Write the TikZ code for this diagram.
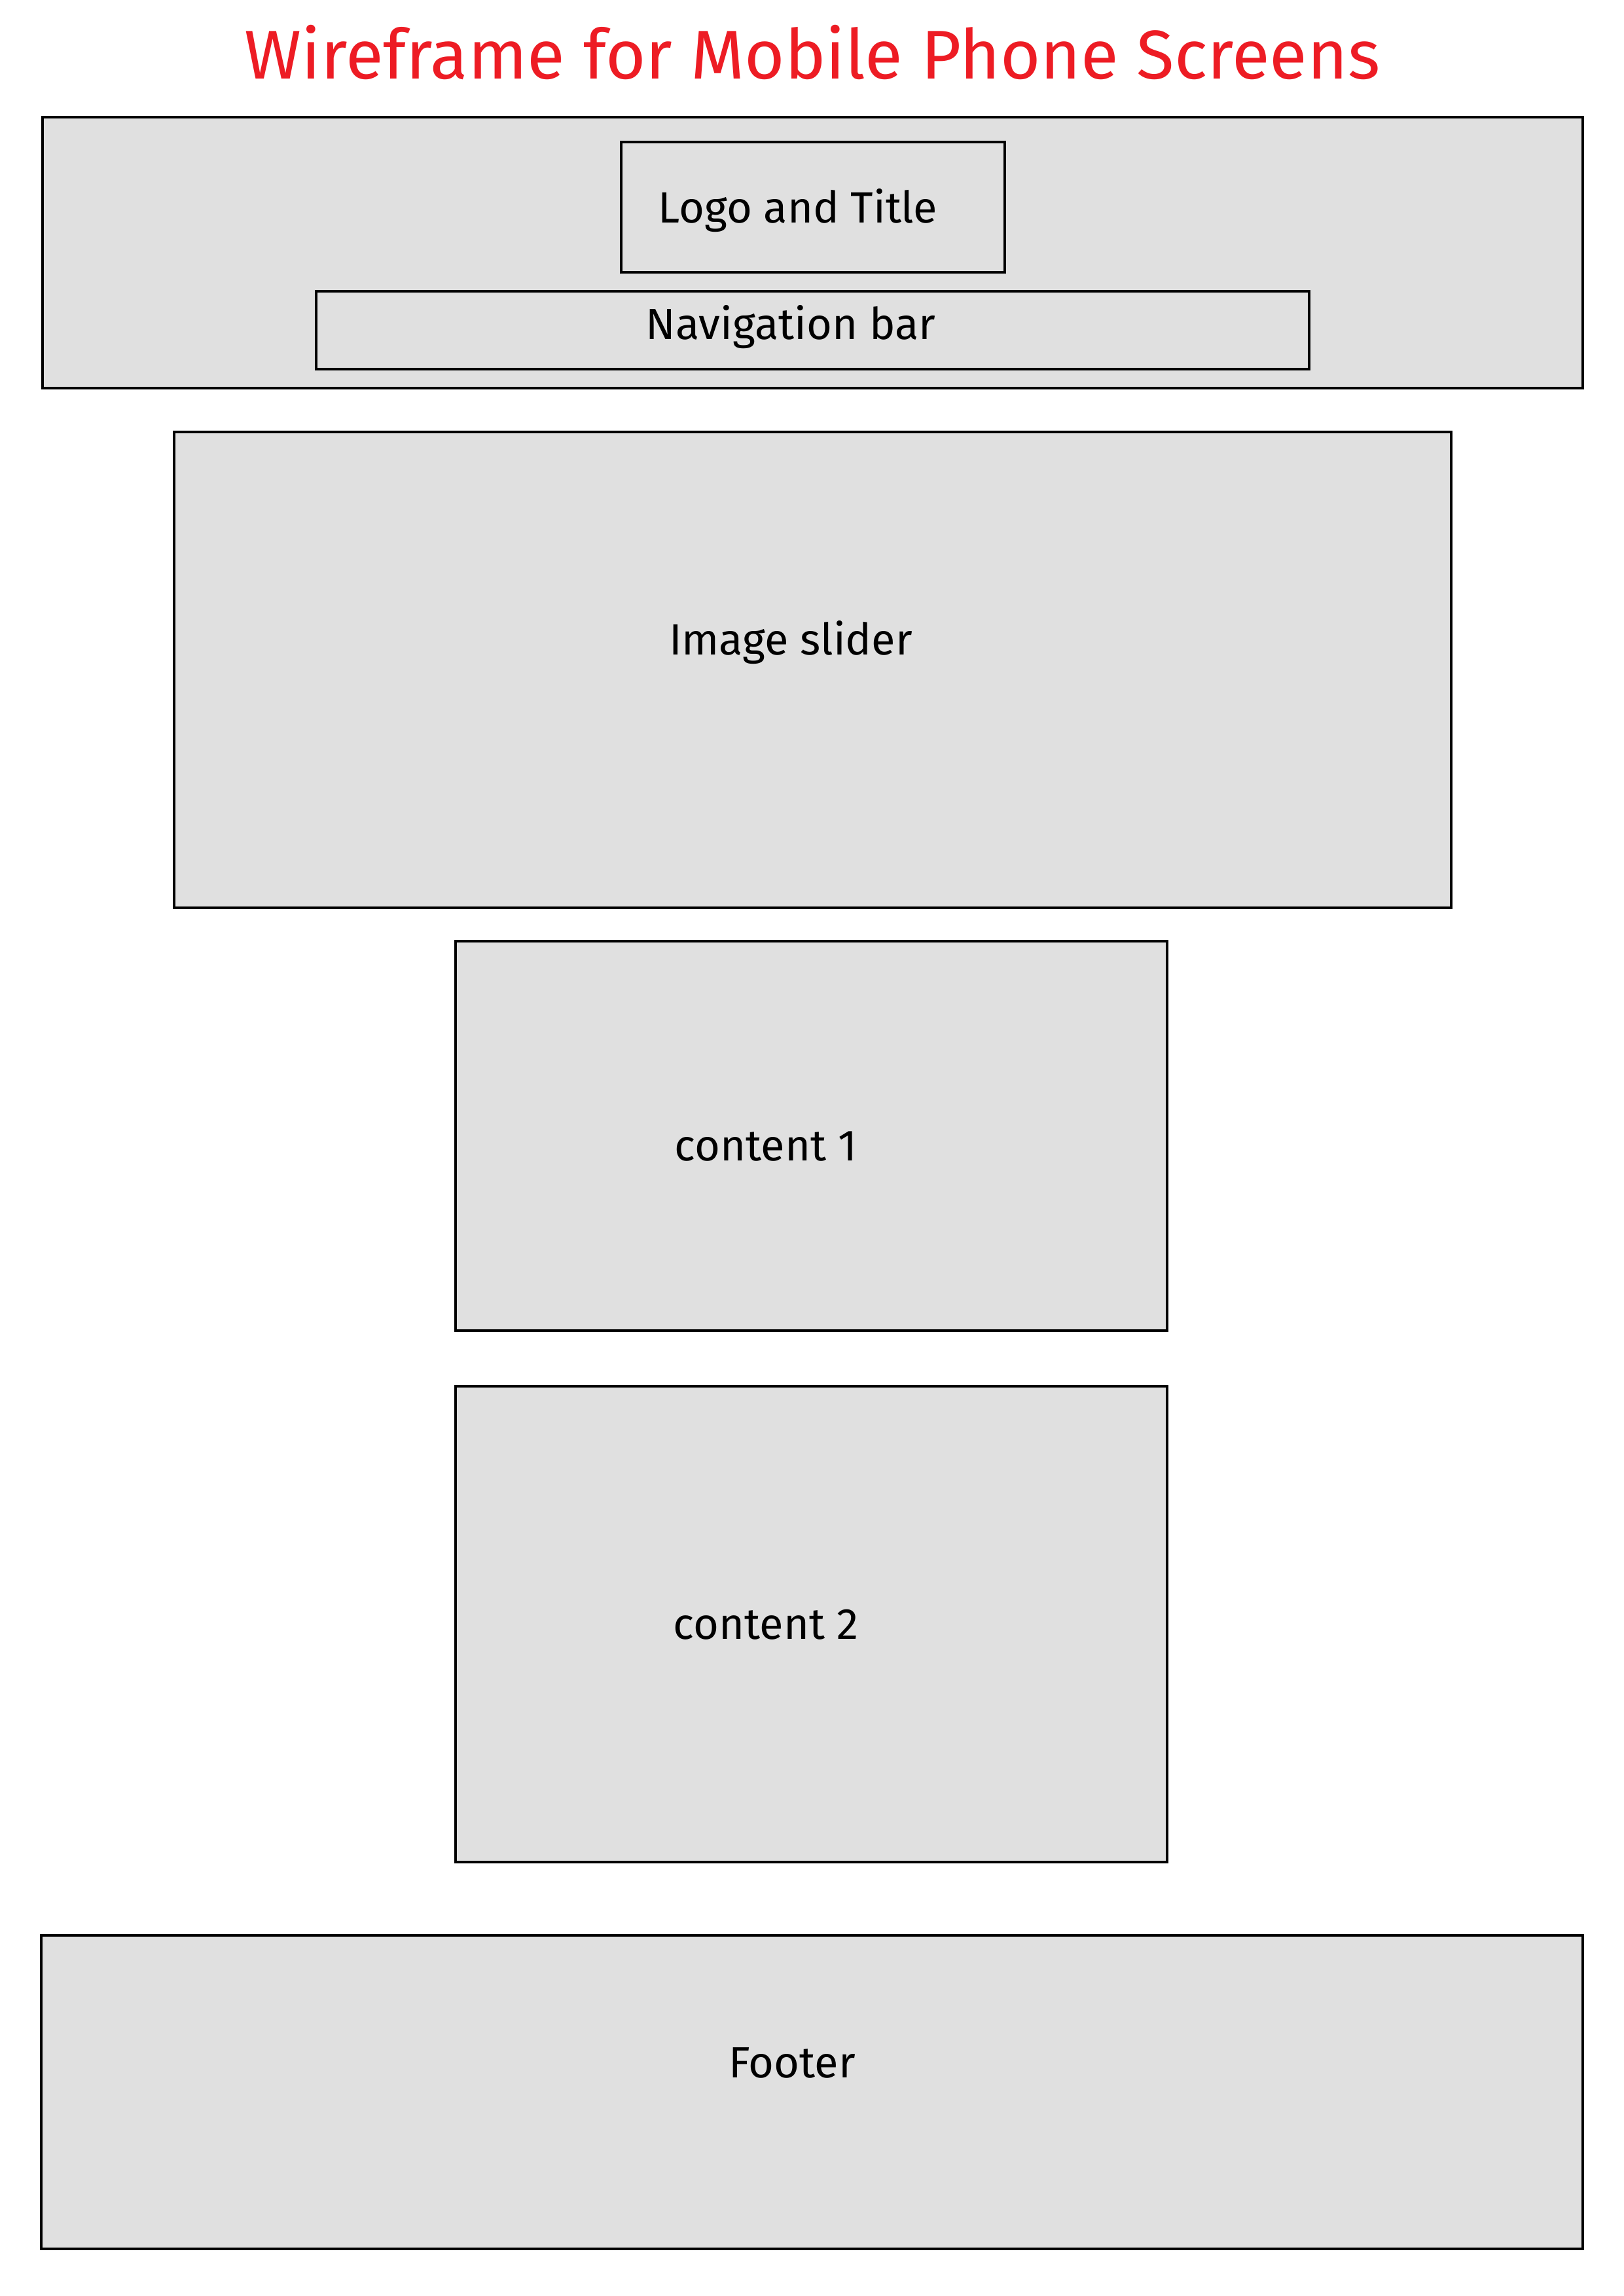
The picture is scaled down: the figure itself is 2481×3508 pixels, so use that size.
\documentclass[tikz,border=0pt]{standalone}
\usepackage{fontspec}
\setmainfont{Fira Sans}
\usepackage{tikz}

\definecolor{wfgray}{RGB}{224,224,224}
\definecolor{wfred}{RGB}{237,28,36}

\tikzset{
  wbox/.style={draw=black,fill=wfgray,line width=1.3pt},
  wlabel/.style={font=\fontsize{19}{21}\selectfont,inner sep=0pt}
}

\begin{document}
\begin{tikzpicture}[x=0.1mm,y=-0.1mm]
			\useasboundingbox (0,0) rectangle (2481,3508);
			\node[wfred,font=\fontsize{30}{34}\selectfont] (title) at (1241,80) {Wireframe for Mobile Phone Screens};
			\draw[wbox] (65,179) rectangle (2418,593);
			\draw[wbox] (949,217) rectangle (1535,416);
			\node[wlabel] (logo) at (1219,322) {Logo and Title};
			\draw[wbox] (483,445) rectangle (2000,564);
			\node[wlabel] (nav) at (1208,500) {Navigation bar};
			\draw[wbox] (266,660) rectangle (2217,1387);
			\node[wlabel] (slider) at (1208,982) {Image slider};
			% two content blocks, same width
			\draw[wbox] (696,1438) rectangle (1783,2033);
			\node[wlabel] (cont1) at (1170,1752) {content 1};
			\draw[wbox] (696,2118) rectangle (1783,2845);
			\node[wlabel] (cont2) at (1170,2482) {content 2};
			\draw[wbox] (63,2957) rectangle (2418,3436);
			\node[wlabel] (footer) at (1210,3152) {Footer};
		\end{tikzpicture}
\end{document}
